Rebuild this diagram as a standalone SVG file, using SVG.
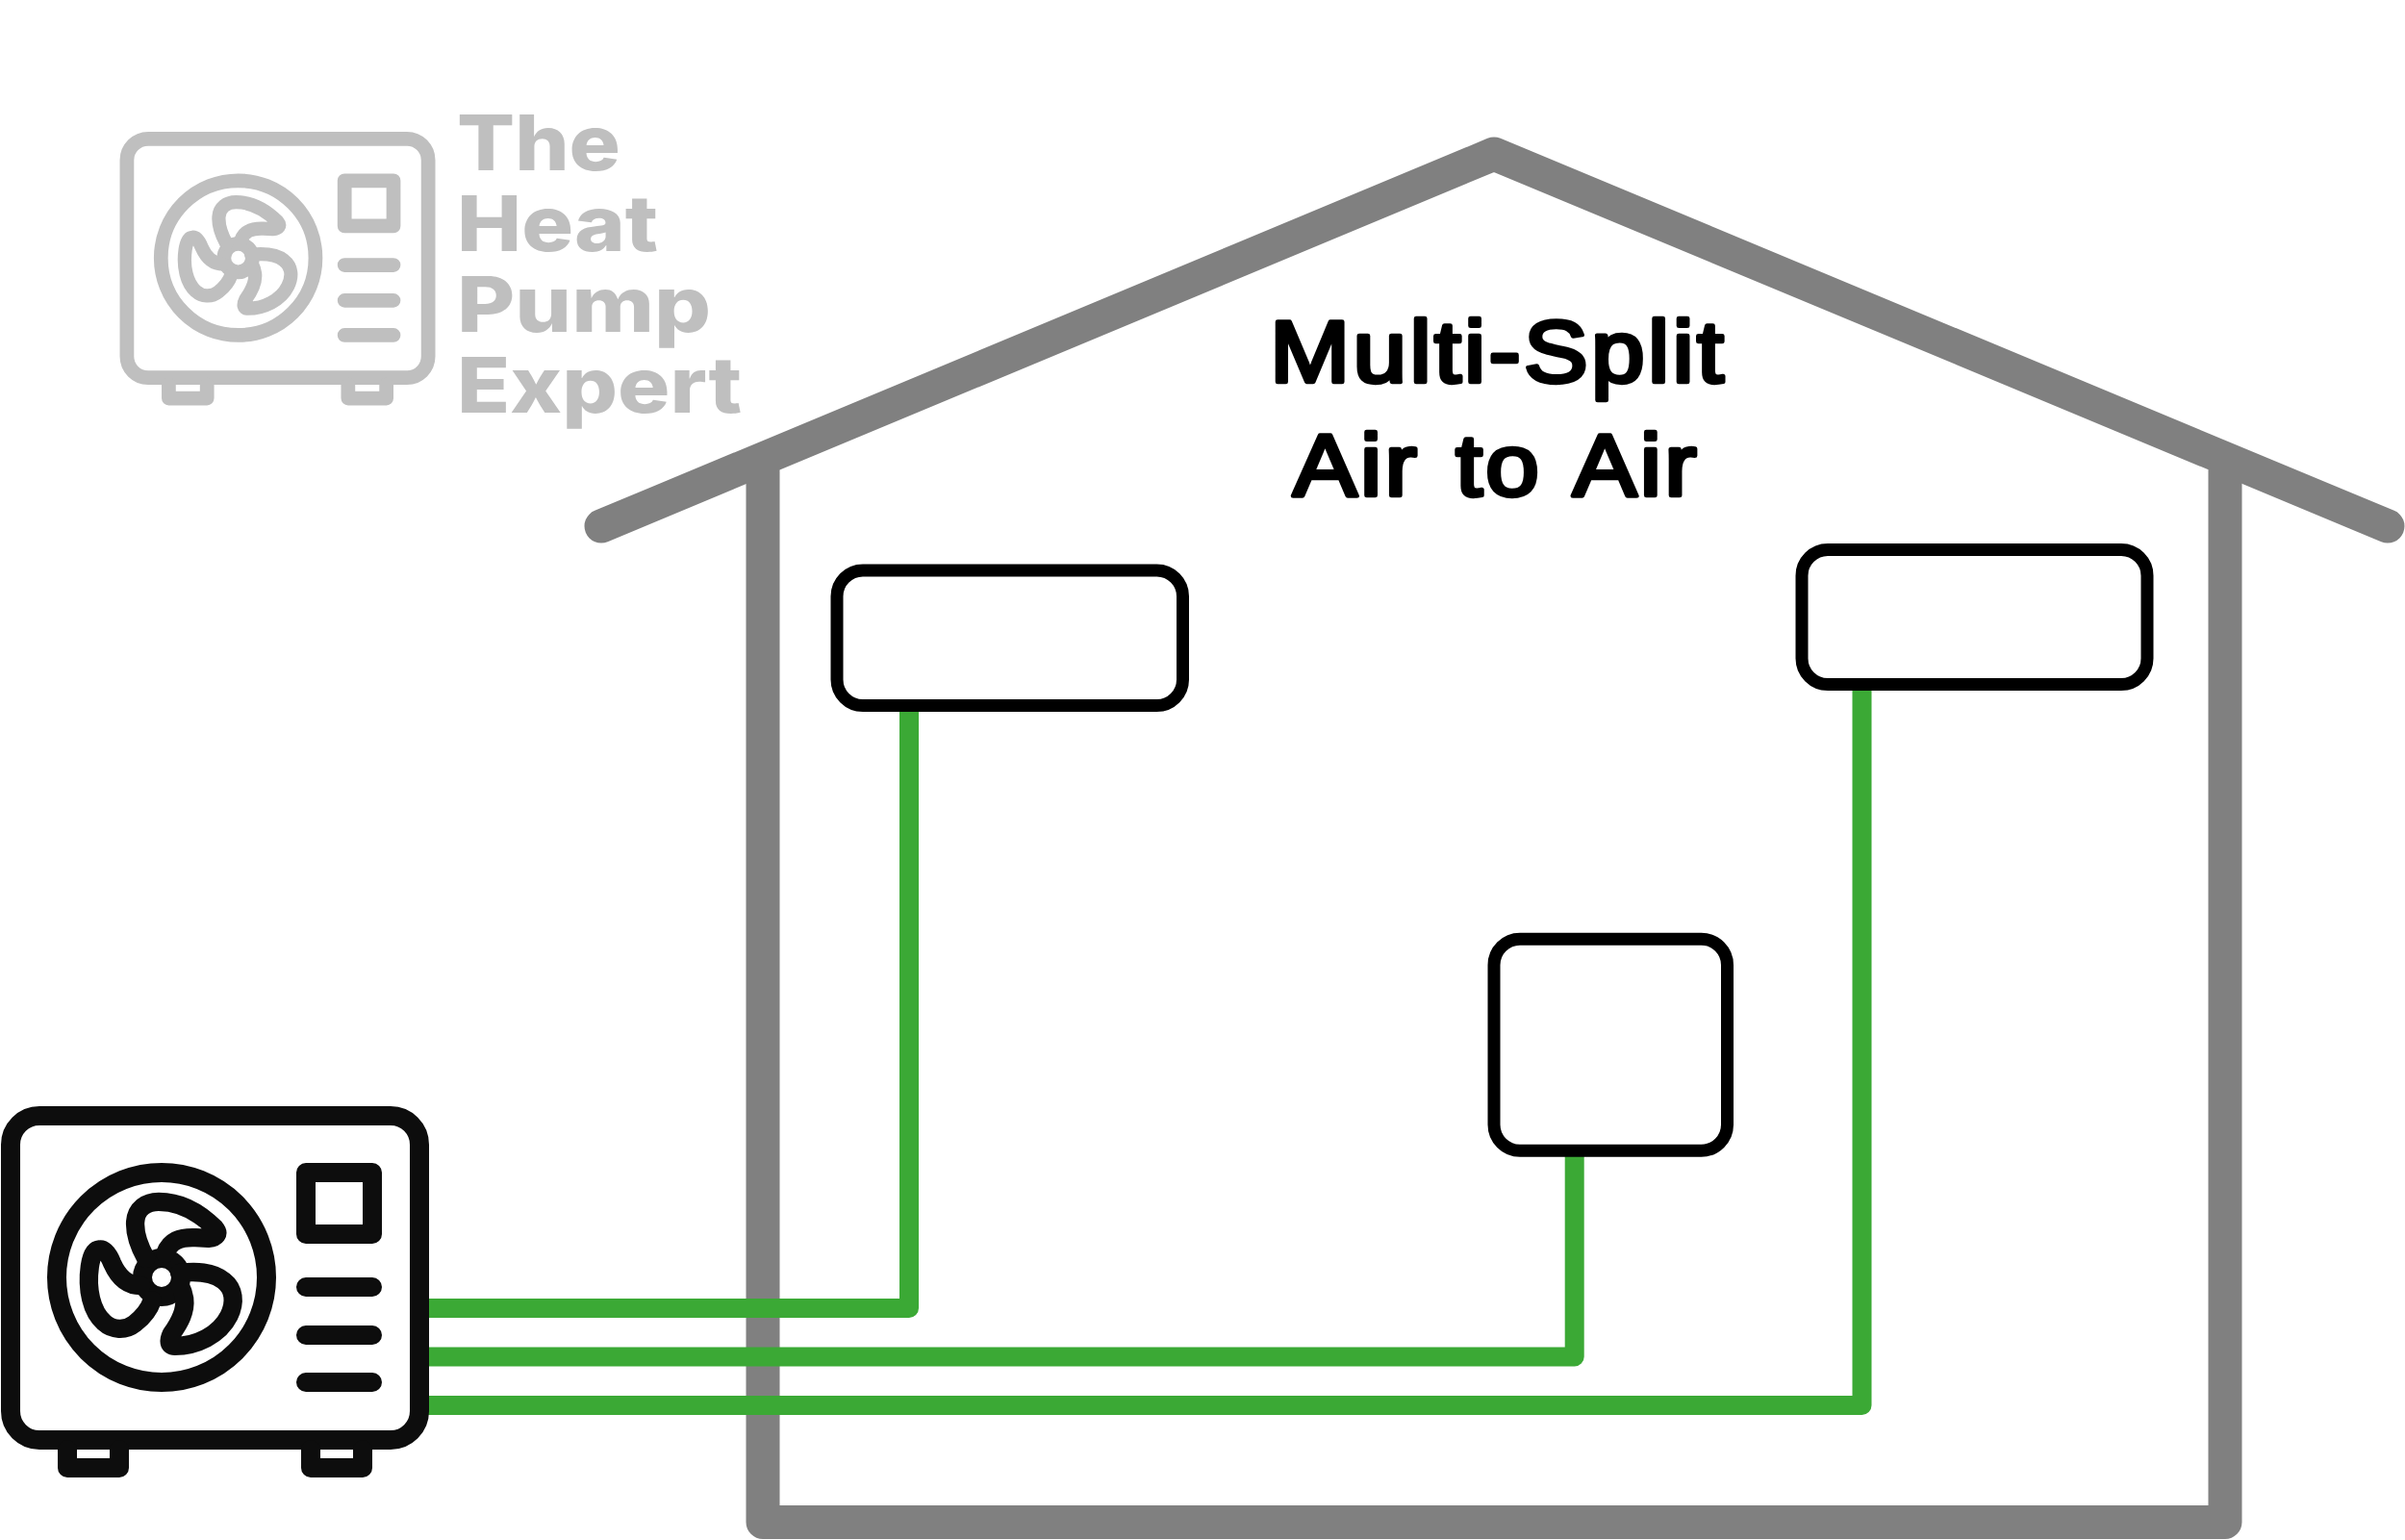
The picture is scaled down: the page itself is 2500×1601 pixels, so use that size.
<svg xmlns="http://www.w3.org/2000/svg" xmlns:xlink="http://www.w3.org/1999/xlink" width="2500" height="1601" viewBox="0 0 2500 1601">
<style>
.house{fill:none;stroke:#808080;stroke-width:35;stroke-linecap:round;stroke-linejoin:round}
.pipe{fill:none;stroke:#3ba935;stroke-width:20;stroke-linejoin:round}
.indoor{fill:#fff;stroke:#000;stroke-width:13}
.title{font-family:"Liberation Sans",Arial,sans-serif;font-weight:400;font-size:100px;letter-spacing:3.300px;word-spacing:6px;text-anchor:middle;fill:#000;stroke:#000;stroke-width:5;stroke-linejoin:round;stroke-linecap:round}
.logo{font-family:Inter,"Liberation Sans",sans-serif;font-weight:800;font-size:80px;fill:#bfbfbf}
.ic{fill:none;stroke-width:20;stroke-linejoin:round;stroke-linecap:round}
</style>
<defs>
<g id="icon" class="ic">
<rect x="11" y="1160" width="425" height="337" rx="30" fill="#fff"/>
<path d="M70 1507V1526H124V1507M323 1507V1526H377V1507"/>
<circle cx="168" cy="1328" r="109"/>
<circle cx="168" cy="1328" r="20"/>
<g transform="translate(0 1130) scale(.33333)" stroke-width="58">
<path d="M455 535C430 490 420 450 422 420C425 380 455 358 495 358C560 358 620 390 670 440C685 458 675 470 650 472L610 470C560 468 530 480 515 520"/>
<path d="M440 620C400 620 370 595 350 550C338 520 325 505 310 507C295 508 285 525 280 560C270 630 285 700 325 735C350 758 390 762 420 738C450 715 465 695 475 665"/>
<path d="M560 580C610 575 662 575 698 605C730 630 735 672 714 714C684 774 612 808 545 808C525 808 525 790 535 770C560 735 580 700 575 660C572 640 565 625 560 615"/>
</g>
<rect x="318" y="1219" width="69" height="64"/>
<path d="M318 1338H387M318 1388H387M318 1437H387"/>
</g>
</defs>
<rect width="2500" height="1601" fill="#fff"/>
<g id="house">
<path class="house" d="M625 547L1553 160L2482 547"/>
<path class="house" d="M793 490V1582.500H2313V490"/>
</g>
<g id="connectors">
<path class="pipe" d="M440 1360H945V730"/>
<path class="pipe" d="M440 1410.500H1636.700V1195"/>
<path class="pipe" d="M440 1461H1935.500V710"/>
</g>
<g id="indoor-unit-1"><rect class="indoor" x="870" y="593" width="359.500" height="140.500" rx="27"/></g>
<g id="indoor-unit-2"><rect class="indoor" x="1873" y="571.500" width="359" height="140" rx="27"/></g>
<g id="indoor-unit-3"><rect class="indoor" x="1553" y="976.300" width="242.500" height="220" rx="27"/></g>
<g id="outdoor-unit"><use xlink:href="#icon" href="#icon" stroke="#0d0d0d"/></g>
<g id="logo">
<use xlink:href="#icon" href="#icon" stroke="#bfbfbf" transform="translate(123.800 -710.600) scale(.737)"/>
<text class="logo" x="475" y="176.700" textLength="170" lengthAdjust="spacingAndGlyphs">The</text>
<text class="logo" x="475" y="261" textLength="209" lengthAdjust="spacingAndGlyphs">Heat</text>
<text class="logo" x="475" y="345" textLength="264" lengthAdjust="spacingAndGlyphs">Pump</text>
<text class="logo" x="475" y="429" textLength="296" lengthAdjust="spacingAndGlyphs">Expert</text>
</g>
<g id="title">
<text class="title" transform="translate(1557.500 396.500) scale(1 .9)">Multi-Split</text>
<text class="title" transform="translate(1555.500 514.500) scale(1 .9)">Air to Air</text>
</g>
</svg>
